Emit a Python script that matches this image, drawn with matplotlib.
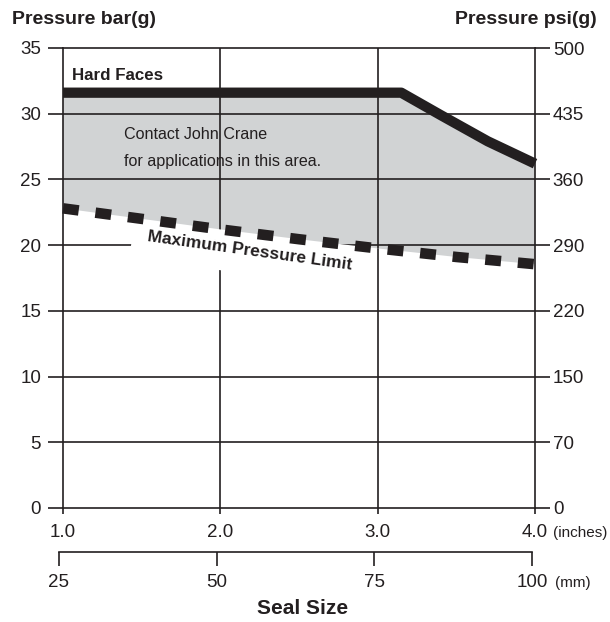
import numpy as np
import matplotlib
matplotlib.use('Agg')
import matplotlib.pyplot as plt
from matplotlib import font_manager


# -----------------------------------------------------------------------
# Data
# -----------------------------------------------------------------------
size_in    = [1.0, 2.0, 3.0, 4.0]
size_in_lb = ["1.0", "2.0", "3.0", "4.0"]
size_mm    = [25, 50, 75, 100]

bar_ticks  = [0, 5, 10, 15, 20, 25, 30, 35]
psi_labels = ["0", "70", "150", "220", "290", "360", "435", "500"]

# Hard Faces upper limit (bar g)
hard_x = [1.0, 3.15, 3.4, 3.7, 4.0]
hard_y = [31.6, 31.6, 29.9, 27.9, 26.2]

# Maximum pressure limit (bar g)
limit_x = [1.0, 1.5, 2.0, 2.5, 3.0, 3.5, 4.0]
limit_y = [22.8, 22.0, 21.2, 20.45, 19.75, 19.1, 18.55]

INK  = "#231f20"
GREY = "#d1d3d4"

names = {f.name for f in font_manager.fontManager.ttflist}
NARROW = "Liberation Sans Narrow" if "Liberation Sans Narrow" in names else "Liberation Sans"
REG    = "Liberation Sans"

W, H = 610, 622
fig = plt.figure(figsize=(W / 100, H / 100), dpi=100)

L, R, T, B = 63, 535, 48, 508
ax = fig.add_axes([L / W, 1 - B / H, (R - L) / W, (B - T) / H])
ax.set_xlim(1.0, 4.0)
ax.set_ylim(0, 35)

# grid (below the label box)
grid_kw = dict(color=INK, linewidth=1.2)
for v in bar_ticks[1:-1]:
    ax.axhline(v, zorder=1, **grid_kw)
for v in size_in[1:-1]:
    ax.axvline(v, zorder=1, **grid_kw)

# label with white knock-out box
ax.text(2.19, 19.55, "Maximum Pressure Limit", family=NARROW, fontweight="bold",
        fontsize=12.5, color=INK, rotation=-8, rotation_mode="anchor",
        ha="center", va="center", zorder=2,
        bbox=dict(boxstyle="square,pad=0.9", facecolor="white", edgecolor="none"))

# grey region between the two limits
poly = ax.fill(np.r_[hard_x, limit_x[::-1]], np.r_[hard_y, limit_y[::-1]],
               color=GREY, linewidth=0, zorder=2.5)[0]

# grid again, visible only inside the grey region
for v in bar_ticks[1:-1]:
    ln = ax.axhline(v, zorder=2.7, **grid_kw)
    ln.set_clip_path(poly)
for v in size_in[1:-1]:
    ln = ax.axvline(v, zorder=2.7, **grid_kw)
    ln.set_clip_path(poly)

ax.plot(hard_x, hard_y, color=INK, linewidth=7.4, solid_joinstyle="round",
        solid_capstyle="butt", zorder=4, clip_on=False)
ax.plot(limit_x, limit_y, color=INK, linewidth=7.6, dashes=(1.5, 1.6),
        dash_capstyle="butt", zorder=4, clip_on=False)

ax.text(1.06, 32.9, "Hard Faces", family=NARROW, fontweight="bold",
        fontsize=12.2, color=INK, ha="left", va="center", zorder=5)
ax.text(1.39, 28.4, "Contact John Crane", family=NARROW, fontsize=11.6,
        color=INK, ha="left", va="center", zorder=5)
ax.text(1.39, 26.35, "for applications in this area.", family=NARROW,
        fontsize=11.6, color=INK, ha="left", va="center", zorder=5)

for s in ax.spines.values():
    s.set_color(INK)
    s.set_linewidth(1.2)
    s.set_zorder(3)

ax.set_yticks(bar_ticks)
ax.set_yticklabels([str(v) for v in bar_ticks], family=REG, fontsize=13.5, color=INK)
ax.tick_params(axis="y", length=10.8, width=1.2, color=INK, pad=5)
ax.set_xticks(size_in)
ax.set_xticklabels(size_in_lb, family=REG, fontsize=13.5, color=INK)
ax.tick_params(axis="x", length=4.5, width=1.2, color=INK, pad=7)

ax2 = ax.twinx()
ax2.set_ylim(0, 35)
ax2.set_yticks(bar_ticks)
ax2.set_yticklabels(psi_labels, family=REG, fontsize=13.5, color=INK)
ax2.tick_params(axis="y", length=10.8, width=1.2, color=INK, pad=2)
for s in ax2.spines.values():
    s.set_visible(False)

# millimetre scale
axm = fig.add_axes([59 / W, 1 - 552 / H, (532 - 59) / W, 0.0001])
axm.set_xlim(25, 100)
axm.set_xticks(size_mm)
axm.set_xticklabels([str(v) for v in size_mm], family=REG, fontsize=13.5, color=INK)
axm.tick_params(axis="x", length=10, width=1.2, color=INK, pad=6)
axm.set_yticks([])
axm.patch.set_alpha(0)
for k in ("left", "right", "top"):
    axm.spines[k].set_visible(False)
axm.spines["bottom"].set_color(INK)
axm.spines["bottom"].set_linewidth(1.2)

fig.text(553 / W, 1 - 533 / H, "(inches)", family=NARROW, fontsize=11,
         color=INK, ha="left", va="center")
fig.text(555 / W, 1 - 583 / H, "(mm)", family=NARROW, fontsize=11,
         color=INK, ha="left", va="center")
fig.text(303 / W, 1 - 609 / H, "Seal Size", family=NARROW, fontweight="bold",
         fontsize=15, color=INK, ha="center", va="center")
fig.text(12 / W, 1 - 19 / H, "Pressure bar(g)", family=NARROW, fontweight="bold",
         fontsize=14, color=INK, ha="left", va="center")
fig.text(597 / W, 1 - 19 / H, "Pressure psi(g)", family=NARROW, fontweight="bold",
         fontsize=14, color=INK, ha="right", va="center")

fig.savefig("out.png", dpi=100)
